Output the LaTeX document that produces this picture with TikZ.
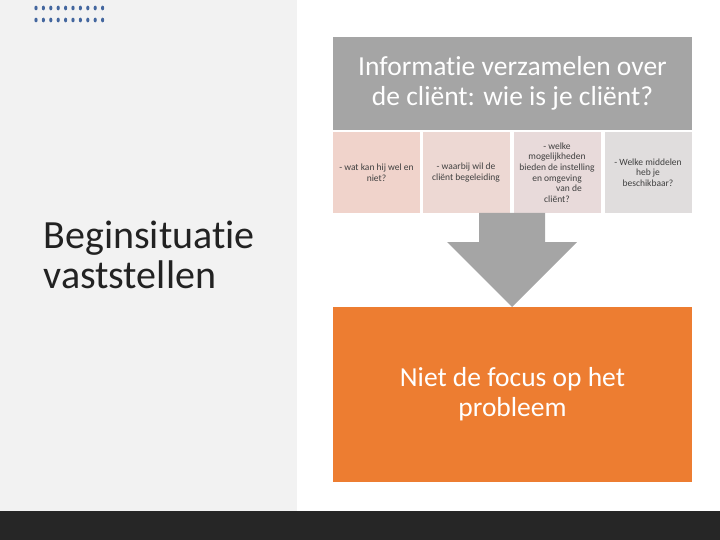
\documentclass[tikz,border=0pt]{standalone}
\usepackage{fontspec}
\setmainfont{Carlito}[Ligatures=NoCommon]
\usepackage{tikz}

\definecolor{panelgray}{HTML}{F2F2F2}
\definecolor{bargray}{HTML}{262626}
\definecolor{boxgray}{HTML}{A5A5A5}
\definecolor{dotblue}{HTML}{44679F}
\definecolor{textgray}{HTML}{404040}
\definecolor{titledark}{HTML}{222222}
\definecolor{orangebox}{HTML}{ED7D31}
\definecolor{sub1}{HTML}{F0D3CB}
\definecolor{sub2}{HTML}{EDD8D3}
\definecolor{sub3}{HTML}{E8DADA}
\definecolor{sub4}{HTML}{E0DDDD}

\begin{document}
\begin{tikzpicture}[x=1pt,y=-1pt,
	subbox/.style={minimum width=87pt, minimum height=81pt, inner sep=1pt, align=center, font=\fontsize{9.5}{10.7}\selectfont, text=textgray},
	bigbox/.style={minimum width=359pt, inner sep=0pt, align=center, text=white, font=\fontsize{27.5}{30}\selectfont}]
	\useasboundingbox (0,0) rectangle (720,540);
	% background
	\fill[panelgray] (0,0) rectangle (297,511);
	\fill[bargray] (0,511) rectangle (720,540);
	\foreach \i in {0,...,9} {
		\fill[dotblue] (36+7.4*\i,8) ellipse (1.6 and 2.4);
		\fill[dotblue] (36+7.4*\i,20) ellipse (1.6 and 2.4);
	}
	
	% top box
	\node[bigbox, fill=boxgray, minimum height=93pt] (info) at (512.5,83.5) {Informatie verzamelen over\\de cliënt: wie is je cliënt?};
	% sub boxes
	\node[subbox, fill=sub1] (kan) at (376.5,172.5) {- wat kan hij wel en\\niet?};
	\node[subbox, fill=sub2] (waarbij) at (466,172.5) {- waarbij wil de\\cliënt begeleiding};
	\node[subbox, fill=sub3] (mogelijk) at (557,172.5) {- welke\\mogelijkheden\\bieden de instelling\\en omgeving\\\hspace*{24pt}van de\\cliënt?};
	\node[subbox, fill=sub4] (middelen) at (648,172.5) {- Welke middelen\\heb je\\beschikbaar?};
	% bottom box
	\node[bigbox, fill=orangebox, minimum height=175pt] (focus) at (512.5,394.5) {Niet de focus op het\\probleem};
	
	% arrow
	\fill[boxgray] (479,213) -- (545,213) -- (545,242) -- (577,242) -- (512,307) -- (447,242) -- (479,242) -- cycle;
	
	\node[anchor=west, align=left, text=titledark, font=\fontsize{40}{40}\selectfont] (begin) at (40,255) {Beginsituatie\\vaststellen};
\end{tikzpicture}
\end{document}
